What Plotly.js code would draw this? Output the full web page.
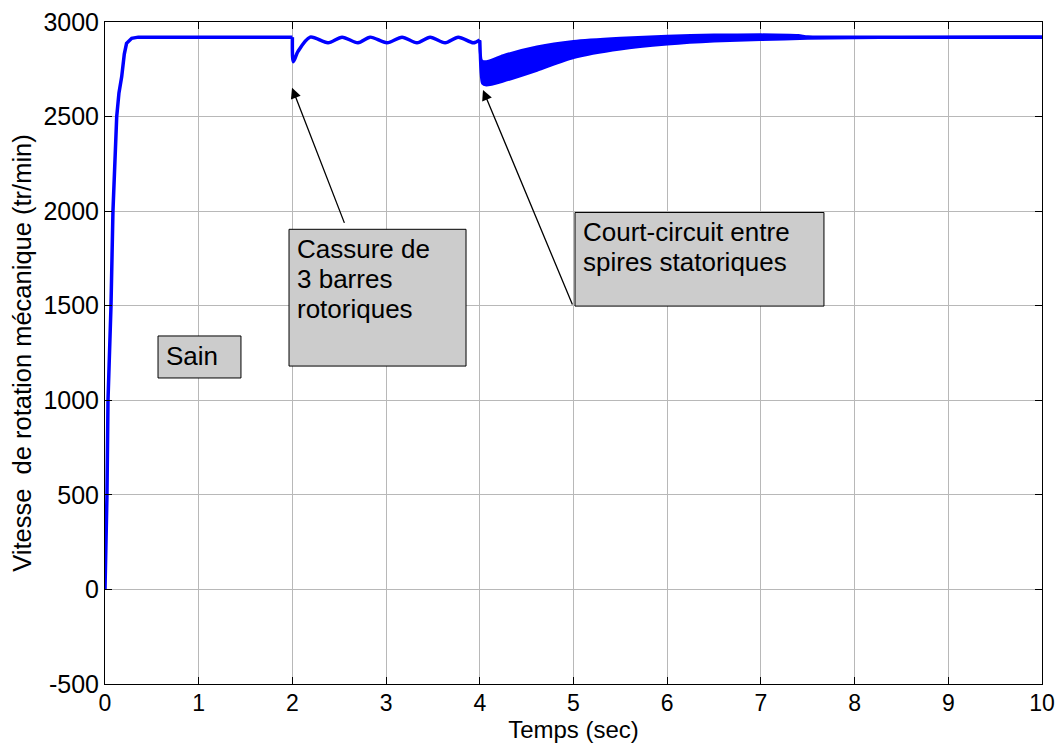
<!DOCTYPE html>
<html>
<head>
<meta charset="utf-8">
<script src="https://cdn.plot.ly/plotly-3.0.1.min.js"></script>
<style>
  html, body { margin: 0; padding: 0; background: #ffffff; }
  #chart { width: 1060px; height: 744px; }
</style>
</head>
<body>
<div id="chart"></div>
<script>
// Rotor speed (tr/min) versus time (s)

// Start-up and healthy steady state
const tDemarrage = [0, 0.021, 0.032, 0.064, 0.085, 0.125, 0.149, 0.178, 0.206, 0.23, 0.285, 0.355, 1.0, 2.0];
const vDemarrage = [0, 500, 1000, 1500, 2000, 2500, 2625, 2710, 2830, 2887, 2914, 2920, 2920, 2920];

// Broken rotor bars: dip at t = 2 s, then slow speed ripple
const tCassure = [2.0, 2.01, 2.06, 2.19, 2.38, 2.53, 2.70, 2.83, 3.01, 3.17, 3.33, 3.47, 3.63, 3.77, 3.93, 4.0];
const vCassure = [2920, 2790, 2845, 2920, 2890, 2920, 2890, 2920, 2890, 2920, 2890, 2920, 2890, 2920, 2890, 2905];

// Stator inter-turn short circuit from t = 4 s: envelope of the fast oscillation
const tHaut = [4.0, 4.02, 4.07, 4.25, 4.61, 5.0, 5.5, 6.0, 6.5, 7.0, 7.4, 7.5, 8.0, 8.5, 10];
const vHaut = [2905, 2795, 2790, 2822, 2868, 2897, 2914, 2925, 2931, 2932, 2928, 2922, 2921, 2921, 2922];
const tBas = [4.0, 4.03, 4.07, 4.25, 4.61, 5.0, 5.5, 6.0, 6.5, 7.0, 7.5, 8.0, 8.5, 10];
const vBas = [2900, 2675, 2667, 2688, 2745, 2812, 2857, 2883, 2899, 2907, 2914, 2917, 2918, 2918];

// Axis ticks
const xTicks = [0, 1, 2, 3, 4, 5, 6, 7, 8, 9, 10];
const yTicks = [-500, 0, 500, 1000, 1500, 2000, 2500, 3000];

// Text boxes
const notes = [
  { lines: ['Sain'], x0: 0.566, x1: 1.451, y0: 1118, y1: 1340 },
  { lines: ['Cassure de', '3 barres', 'rotoriques'], x0: 1.964, x1: 3.853, y0: 1181, y1: 1904 },
  { lines: ['Court-circuit entre', 'spires statoriques'], x0: 5.016, x1: 7.673, y0: 1498, y1: 1993 }
];
// Arrows: tail (ax, ay) to head (x, y)
const fleches = [
  { ax: 2.561, ay: 1930, x: 1.996, y: 2652 },
  { ax: 4.995, ay: 1498, x: 4.034, y: 2641 }
];

const BLEU = '#0000ff';
const FONT = 'Arial, "Liberation Sans", sans-serif';
const LW = 3.5;

const traces = [
  { x: tDemarrage, y: vDemarrage, mode: 'lines', line: { color: BLEU, width: LW }, showlegend: false },
  { x: tCassure, y: vCassure, mode: 'lines', line: { color: BLEU, width: LW, shape: 'spline', smoothing: 0.8 }, showlegend: false },
  { x: tHaut, y: vHaut, mode: 'lines', line: { color: BLEU, width: 3, shape: 'spline', smoothing: 0.6 }, showlegend: false },
  { x: tBas, y: vBas, mode: 'lines', line: { color: BLEU, width: 3, shape: 'spline', smoothing: 0.6 }, fill: 'tonexty', fillcolor: BLEU, showlegend: false }
];

const shapes = [];
const annotations = [];
// vertical distance in data units for one pixel
const pxY = 3500 / 662.5;
notes.forEach(n => {
  shapes.push({
    type: 'rect', xref: 'x', yref: 'y', x0: n.x0, x1: n.x1, y0: n.y0, y1: n.y1,
    fillcolor: '#cccccc', line: { color: '#000000', width: 1 }, layer: 'above'
  });
  n.lines.forEach((txt, i) => {
    annotations.push({
      xref: 'x', yref: 'y', x: n.x0 + 6 / 93.7, y: n.y1 - (3 + 30 * i) * pxY,
      xanchor: 'left', yanchor: 'top', text: txt, showarrow: false,
      font: { family: FONT, size: 26, color: '#000000' }
    });
  });
});
fleches.forEach(f => {
  annotations.push({
    xref: 'x', yref: 'y', axref: 'x', ayref: 'y',
    x: f.x, y: f.y, ax: f.ax, ay: f.ay, text: '', showarrow: true,
    arrowhead: 2, arrowsize: 1.6, arrowwidth: 1.3, arrowcolor: '#000000', standoff: 0
  });
});

const axisCommon = {
  showline: true, linecolor: '#000000', linewidth: 1, mirror: 'ticks',
  ticks: 'inside', ticklen: 7, tickcolor: '#000000', tickwidth: 1,
  showgrid: true, gridcolor: '#b8b8b8', gridwidth: 1, zeroline: false,
  tickfont: { family: FONT, size: 25, color: '#000000' }
};

const layout = {
  width: 1060, height: 744,
  margin: { l: 105, r: 18, t: 22, b: 60 },
  paper_bgcolor: '#ffffff', plot_bgcolor: '#ffffff',
  font: { family: FONT, color: '#000000' },
  xaxis: Object.assign({}, axisCommon, {
    range: [0, 10], tickvals: xTicks, ticktext: xTicks.map(String),
    tickfont: { family: FONT, size: 23, color: '#000000' },
    ticklabelstandoff: -2,
    title: { text: 'Temps (sec)', font: { family: FONT, size: 24 }, standoff: 2 }
  }),
  yaxis: Object.assign({}, axisCommon, {
    range: [-500, 3000], tickvals: yTicks, ticktext: yTicks.map(String),
    ticklabelstandoff: 0,
    title: { text: 'Vitesse &nbsp;de rotation mécanique (tr/min)', font: { family: FONT, size: 25.5 }, standoff: 4 }
  }),
  shapes: shapes,
  annotations: annotations
};

Plotly.newPlot('chart', traces, layout, { staticPlot: true, displayModeBar: false });
</script>
</body>
</html>
